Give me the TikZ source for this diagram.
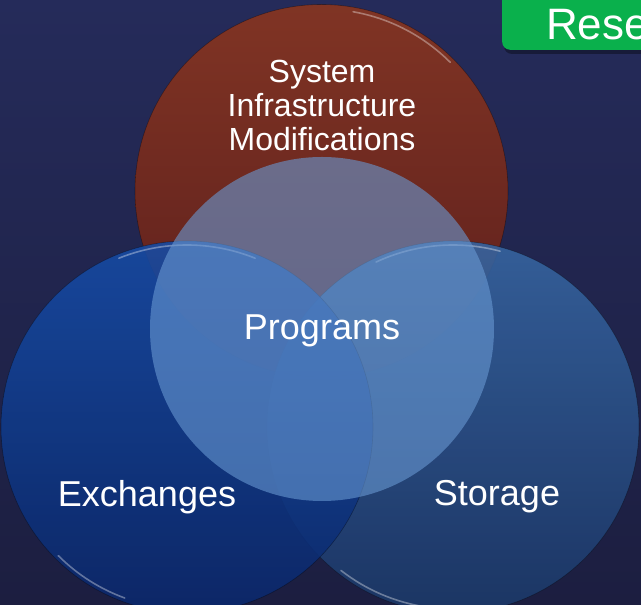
\documentclass[tikz,border=0pt]{standalone}
\usepackage{fontspec}
\setmainfont{Liberation Sans}
\usetikzlibrary{calc,positioning}
\definecolor{bgtop}{RGB}{37,43,90}
\definecolor{bgbot}{RGB}{28,30,64}
\definecolor{infratop}{RGB}{128,52,36}
\definecolor{infrabot}{RGB}{92,30,28}
\definecolor{exchtop}{RGB}{22,76,166}
\definecolor{exchbot}{RGB}{10,40,108}
\definecolor{stortop}{RGB}{54,100,160}
\definecolor{storbot}{RGB}{28,56,104}
\definecolor{progfill}{RGB}{104,152,210}
\definecolor{btngreen}{RGB}{10,176,76}
\tikzset{
  venn/.style={circle,inner sep=0pt,minimum size=#1,draw=black,draw opacity=0.35,line width=0.6pt},
  rim/.style={white,line width=1.6pt,opacity=0.35,line cap=round},
  lbl/.style={text=white,align=center,inner sep=0pt},
}

\begin{document}
\begin{tikzpicture}[x=1pt,y=1pt]
\clip (0,0) rectangle (641,605);
\shade[top color=bgtop,bottom color=bgbot] (0,0) rectangle (641,605);

\fill[black,opacity=0.35,rounded corners=8pt] (504,551) rectangle (670,640);
\node [fill=btngreen,rounded corners=8pt,minimum width=170pt,minimum height=90pt,anchor=south west] (button) at (502,555) {};
\node [lbl,anchor=base west,font=\fontsize{44}{44}\selectfont] (reset) at (546,565) {Rese};

\node [venn=373pt,top color=infratop,bottom color=infrabot] (infra) at (321.5,414) {};
\draw [rim] ($(infra)+(80:182)$) arc[start angle=80,end angle=45,radius=182];
\node [venn=372pt,top color=stortop,bottom color=storbot,fill opacity=0.9] (storage) at (453,178) {};
\node [venn=372pt,top color=exchtop,bottom color=exchbot,fill opacity=0.88] (exchanges) at (187,178) {};
\draw [rim] ($(exchanges)+(112:182)$) arc[start angle=112,end angle=68,radius=182];
\draw [rim] ($(exchanges)+(250:182)$) arc[start angle=250,end angle=225,radius=182];
\draw [rim] ($(storage)+(115:182)$) arc[start angle=115,end angle=75,radius=182];
\draw [rim] ($(storage)+(262:182)$) arc[start angle=262,end angle=232,radius=182];
\node [venn=344pt,fill=progfill,fill opacity=0.6,draw=none] (programs) at (322,276) {};

\node [lbl,font=\fontsize{32}{34}\selectfont] (infralbl) at (322,500) {System\\Infrastructure\\Modifications};
\node [lbl,font=\fontsize{36}{40}\selectfont,below=-14pt of programs.center] (proglbl) {Programs};
\node [lbl,font=\fontsize{36}{40}\selectfont] (exchlbl) at (147,108) {Exchanges};
\node [lbl,font=\fontsize{36}{40}\selectfont] (storlbl) at (497,108) {Storage};
\end{tikzpicture}
\end{document}
